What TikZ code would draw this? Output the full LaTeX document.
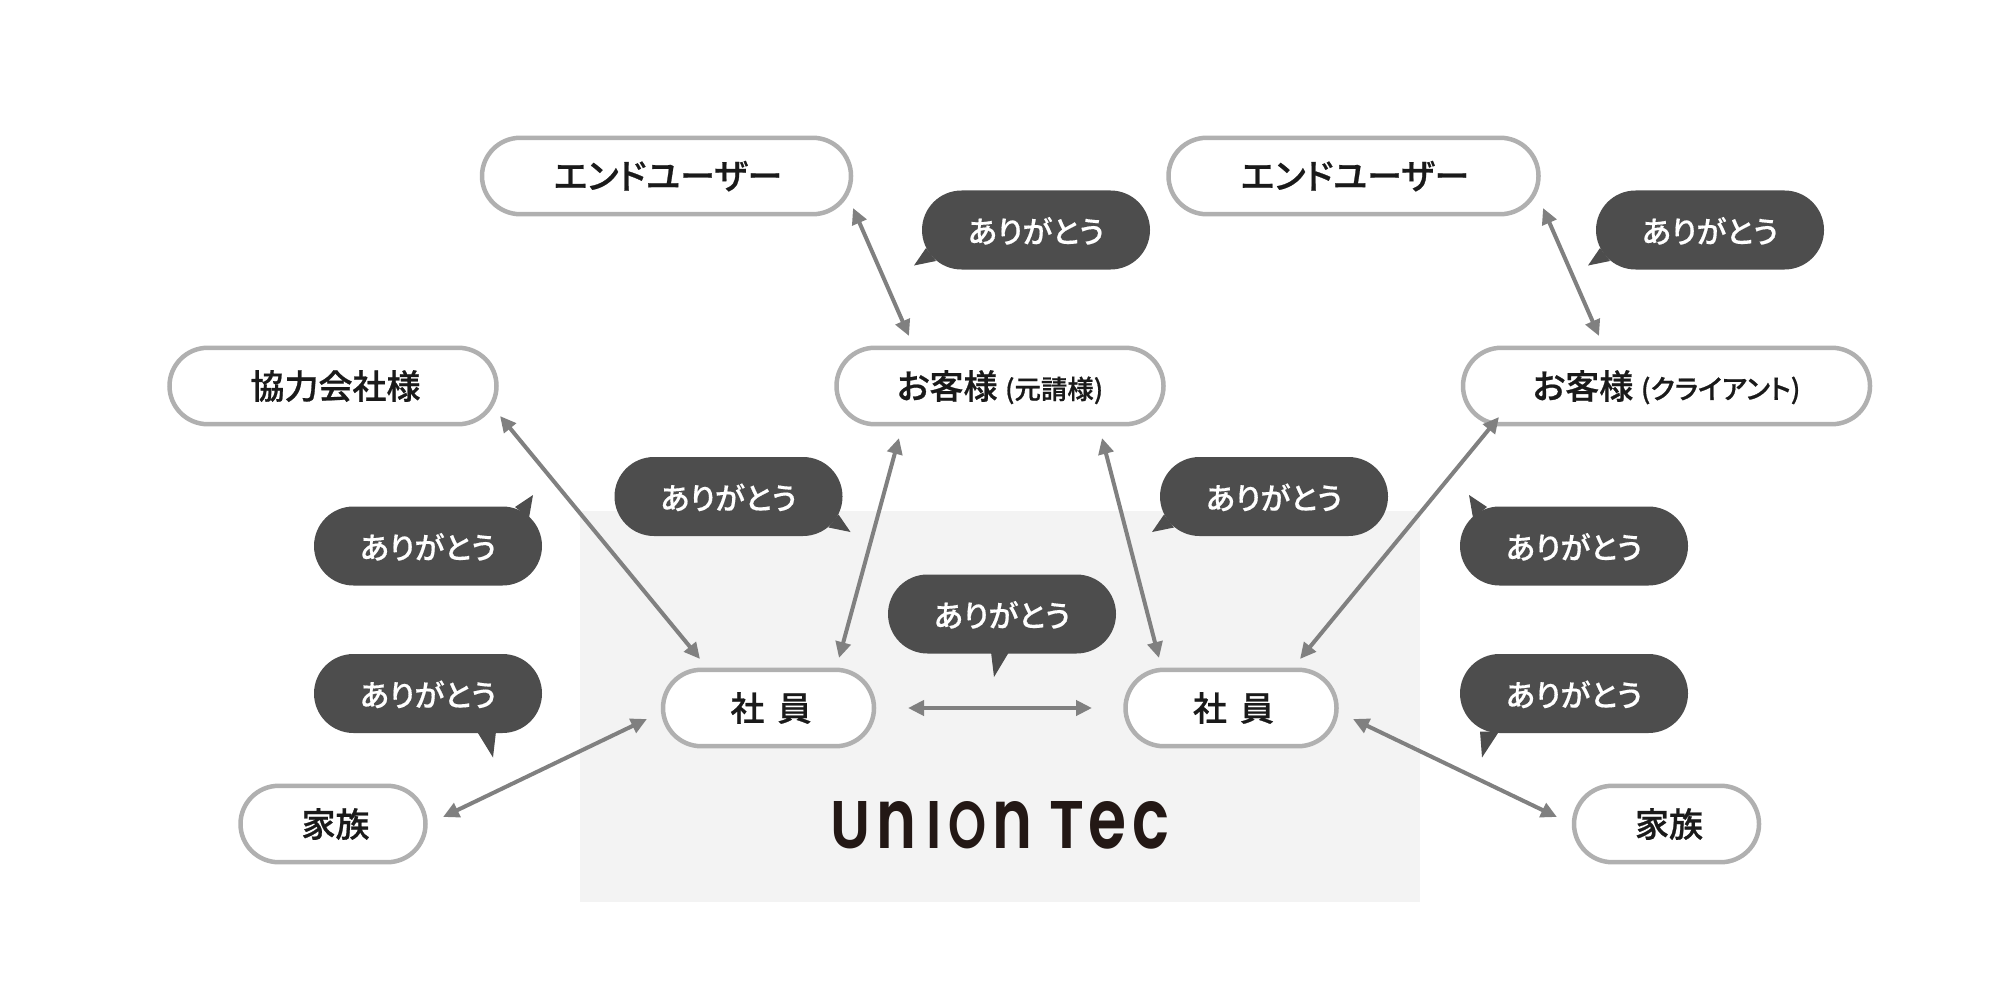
\documentclass[tikz,border=0pt]{standalone}
\usepackage{fontspec}
\usepackage{graphicx}
\usetikzlibrary{arrows.meta,shapes.misc,calc}
\newfontfamily\jpfont[RawFeature=+palt,FakeBold=0.7]{Noto Sans CJK JP Medium}
\newfontfamily\jpbubble[RawFeature=+palt,FakeBold=0.35]{Noto Sans CJK JP Medium}
\newfontfamily\logofont{Poppins SemiBold}
\definecolor{pillline}{HTML}{B0B0B0}
\definecolor{bubblebg}{HTML}{4D4D4D}
\definecolor{linkline}{HTML}{808080}
\definecolor{areabg}{HTML}{F3F3F3}
\definecolor{inkdark}{HTML}{1A1A1A}
\definecolor{logoink}{HTML}{231815}
\tikzset{
  pill/.style={rounded rectangle,draw=pillline,line width=2.25pt,fill=white,inner sep=0pt,outer sep=0pt,minimum height=38.2pt,text height=14pt,text depth=1.08pt,text=inkdark,font=\jpfont\fontsize{17}{19}\selectfont},
  bubble/.style={rounded rectangle,fill=bubblebg,inner sep=0pt,outer sep=0pt,minimum width=114pt,minimum height=39.5pt,text height=13.6pt,text depth=0.6pt,text=white,font=\jpbubble\fontsize{15.2}{17}\selectfont},
  tailshape/.style={fill=bubblebg},
  link/.style={draw=linkline,line width=2pt,{Triangle[width=7.5pt,length=8pt]}-{Triangle[width=7.5pt,length=8pt]}}
}
\newcommand\bubbletail[7]{\fill[tailshape] ($(#1)+(#2,#3)$) -- ($(#1)+(#4,#5)$) -- ($(#1)+(#6,#7)$) -- cycle;}
\newcommand\logoglyph[3]{\resizebox{#1pt}{#2pt}{#3}}
\begin{document}
\begin{tikzpicture}[x=0.5pt,y=-0.5pt]
\useasboundingbox (0,0) rectangle (2000,1000);
\fill[white] (0,0) rectangle (2000,1000);
\fill[areabg] (580,511) rectangle (1420,902);

% outlined nodes
\node[pill,minimum width=184.5pt] (eua) at (666.5,176) {\kern1.5pt\fontsize{17.5}{19}\selectfont エンドユーザー};
\node[pill,minimum width=185pt] (eub) at (1353.5,176) {\kern1.5pt\fontsize{17.5}{19}\selectfont エンドユーザー};
\node[pill,minimum width=163.5pt] (partner) at (333,386) {\kern2.5pt 協力会社様};
\node[pill,minimum width=163.5pt] (custa) at (1000,386) {お客様 {\fontsize{13.2}{14}\selectfont (元請様)}};
\node[pill,minimum width=203.5pt] (custb) at (1666.5,386) {お客様 {\fontsize{13.5}{14}\selectfont (クライアント)}};
\node[pill,minimum width=105.5pt] (staffa) at (768.5,708) {\kern2.5pt 社\hspace{6.5pt}員};
\node[pill,minimum width=105.5pt] (staffb) at (1231,708) {\kern2.5pt 社\hspace{6.5pt}員};
\node[pill,minimum width=92.5pt] (fama) at (333,824) {\kern2.5pt 家族};
\node[pill,minimum width=92.5pt] (famb) at (1666.5,824) {\kern2.5pt 家族};

% speech bubbles
\node[bubble] (ba) at (1036,230) {ありがとう};
\node[bubble] (bb) at (1710,230) {ありがとう};
\node[bubble] (bc) at (728.5,496.5) {ありがとう};
\node[bubble] (bd) at (1274,496.5) {ありがとう};
\node[bubble] (be) at (428,546) {ありがとう};
\node[bubble] (bf) at (1574,546) {ありがとう};
\node[bubble] (bg) at (1002,614) {ありがとう};
\node[bubble] (bh) at (428,693.5) {ありがとう};
\node[bubble] (bi) at (1574,693.5) {ありがとう};
\bubbletail{ba}{-122}{35.5}{-110}{18}{-100}{31}
\bubbletail{bb}{-122}{35.5}{-110}{18}{-100}{31}
\bubbletail{bc}{122}{35.5}{110}{18}{100}{31}
\bubbletail{bd}{-122}{35.5}{-110}{18}{-100}{31}
\bubbletail{be}{105}{-51}{87}{-39}{101}{-28}
\bubbletail{bf}{-105}{-51}{-87}{-39}{-101}{-28}
\bubbletail{bg}{-8}{63}{-11}{38}{7}{38}
\bubbletail{bh}{65}{64}{49}{38}{68}{38}
\bubbletail{bi}{-92}{64}{-94}{38}{-75}{38}

% connector ends
\coordinate (euaE) at (853,208);   \coordinate (custaN) at (909,336);
\coordinate (eubE) at (1543,208);  \coordinate (custbN) at (1599,336);
\coordinate (partnerE) at (500,416); \coordinate (staffaNW) at (700,659);
\coordinate (custaSW) at (899,438);  \coordinate (staffaNE) at (839,658);
\coordinate (custaSE) at (1102,438); \coordinate (staffbNW) at (1159,658);
\coordinate (custbSW) at (1499,417); \coordinate (staffbNE) at (1300,659);
\coordinate (staffaE) at (908,708);  \coordinate (staffbW) at (1092,708);
\coordinate (staffaW) at (647,719);  \coordinate (famaE) at (443,817);
\coordinate (staffbE) at (1353,719); \coordinate (fambW) at (1557,817);

\draw[link] (euaE) -- (custaN);
\draw[link] (eubE) -- (custbN);
\draw[link] (partnerE) -- (staffaNW);
\draw[link] (custaSW) -- (staffaNE);
\draw[link] (custaSE) -- (staffbNW);
\draw[link] (custbSW) -- (staffbNE);
\draw[link] (staffaE) -- (staffbW);
\draw[link] (staffaW) -- (famaE);
\draw[link] (staffbE) -- (fambW);

% logo
\node[anchor=west,inner sep=0pt,text=logoink,font=\logofont] (logo) at (830,825) {%
\logoglyph{20}{23.5}{U}\kern3.2pt
\logoglyph{20}{23.5}{n}\kern4.8pt
\logoglyph{7.6}{23.5}{I}\kern3.2pt
\logoglyph{19}{23.5}{O}\kern3.4pt
\logoglyph{20}{23.5}{n}\kern8.5pt
\logoglyph{17.5}{23.5}{T}\kern2pt
\logoglyph{19}{23.5}{e}\kern3pt
\logoglyph{18.5}{23.5}{c}};
\end{tikzpicture}
\end{document}
